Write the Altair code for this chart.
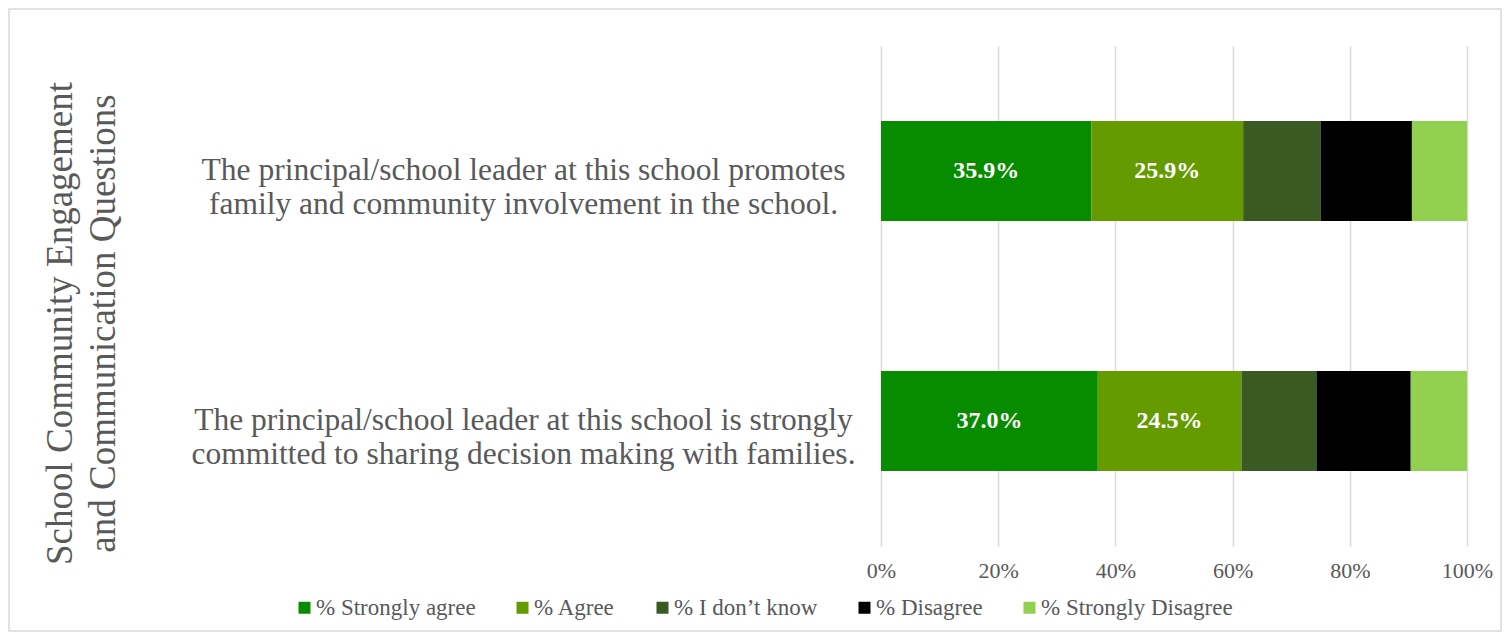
import altair as alt
import pandas as pd

questions = [
    "The principal/school leader at this school promotes|family and community involvement in the school.",
    "The principal/school leader at this school is strongly|committed to sharing decision making with families.",
]
categories = ["% Strongly agree", "% Agree", "% I don’t know", "% Disagree", "% Strongly Disagree"]
q1_values = [35.9, 25.9, 13.2, 15.6, 9.4]
q2_values = [37.0, 24.5, 12.8, 16.1, 9.6]
colors = ["#078c00", "#659a00", "#3a5a24", "#000000", "#92d050"]
x_ticks = [0, 20, 40, 60, 80, 100]
axis_title = ["School Community Engagement", "and Communication Questions"]

rows = []
for q, vals in zip(questions, [q1_values, q2_values]):
    for i, (c, v) in enumerate(zip(categories, vals)):
        rows.append({"question": q, "category": c, "value": v, "idx": i})
df = pd.DataFrame(rows)

FONT = "Liberation Serif"
GRAY = "#595959"

y_enc = alt.Y(
    "question:N",
    sort=questions,
    scale=alt.Scale(paddingInner=0.6, paddingOuter=0.3),
    axis=alt.Axis(
        title=axis_title,
        titleFont=FONT,
        titleFontSize=37,
        titleFontWeight="normal",
        titleColor=GRAY,
        titleAngle=-90,
        titleAlign="center",
        titleBaseline="alphabetic",
        titleX=-810,
        titleY=277,
        titleLineHeight=43,
        labelExpr="split(datum.label, '|')",
        labelFont=FONT,
        labelFontSize=31.5,
        labelColor=GRAY,
        labelAlign="center",
        labelBaseline="middle",
        labelLineHeight=34,
        labelPadding=358,
        labelLimit=1000,
        domain=False,
        ticks=False,
        grid=False,
    ),
)

bars = alt.Chart(df).mark_bar().encode(
    x=alt.X(
        "value:Q",
        stack="zero",
        scale=alt.Scale(domain=[0, 100], nice=False),
        axis=alt.Axis(
            values=x_ticks,
            labelExpr="datum.value + '%'",
            title=None,
            grid=True,
            gridColor="#d9d9d9",
            gridWidth=1.5,
            domain=False,
            ticks=False,
            labelFlush=False,
            labelPadding=14,
            labelFont=FONT,
            labelFontSize=22,
            labelColor=GRAY,
        ),
    ),
    y=y_enc,
    color=alt.Color(
        "category:N",
        sort=categories,
        scale=alt.Scale(domain=categories, range=colors),
        legend=alt.Legend(
            title=None,
            orient="none",
            legendX=-588,
            legendY=550,
            direction="horizontal",
            symbolType="square",
            symbolSize=144,
            symbolStrokeWidth=0,
            labelFont=FONT,
            labelFontSize=23,
            labelColor=GRAY,
            labelOffset=0,
            labelLimit=1000,
            columnPadding=35,
            padding=0,
        ),
    ),
    order=alt.Order("idx:Q"),
)

labels = (
    alt.Chart(df)
    .transform_stack(
        stack="value",
        groupby=["question"],
        as_=["v0", "v1"],
        sort=[alt.SortField("idx", order="ascending")],
    )
    .transform_calculate(
        mid="(datum.v0 + datum.v1) / 2",
        lbl="format(datum.value, '.1f') + '%'",
    )
    .transform_filter("datum.idx < 2")
    .mark_text(font=FONT, fontSize=24, fontWeight="bold", color="white", baseline="middle")
    .encode(
        x=alt.X("mid:Q"),
        y=alt.Y("question:N", sort=questions),
        text="lbl:N",
    )
)

border = (
    alt.Chart(alt.Data(values=[{"a": 1}]))
    .mark_rect(fillOpacity=0, stroke="#d9d9d9", strokeWidth=1.5)
    .encode(
        x=alt.value(-872),
        x2=alt.value(620),
        y=alt.value(-37),
        y2=alt.value(585),
    )
)

chart = (
    alt.layer(border, bars, labels)
    .properties(width=586, height=500, padding=0)
    .configure(font=FONT)
    .configure_view(strokeWidth=0)
    .configure_legend(labelFont=FONT)
    .configure_axis(labelFont=FONT, titleFont=FONT)
)

chart.save("out.html", embed_options={"renderer": "svg", "actions": False})
